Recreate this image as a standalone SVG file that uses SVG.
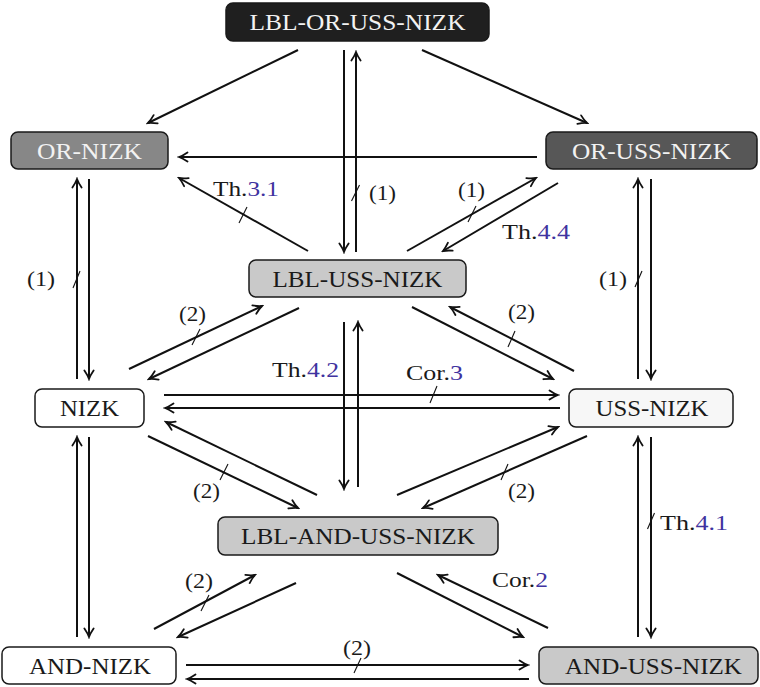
<svg xmlns="http://www.w3.org/2000/svg" width="760" height="687" viewBox="0 0 760 687">
<style>
.box{stroke:#1a1a1a;stroke-width:1.5}
.nt{font-family:"Liberation Serif","DejaVu Serif",serif;font-size:23px;text-anchor:middle;fill:#1a1a1a}
.wt{fill:#f2f2f2}
.lb{font-family:"Liberation Serif","DejaVu Serif",serif;font-size:22px;fill:#1a1a1a}
.ref{fill:#3f33a0}
.c line{stroke:#111;stroke-width:2;fill:none}
.c line.a{marker-end:url(#ah)}
.c line.s{stroke-width:1.1}
</style>
<defs>
<marker id="ah" viewBox="-10 -6 12 12" refX="0" refY="0" markerWidth="12" markerHeight="12" markerUnits="userSpaceOnUse" orient="auto">
<path d="M-8.5,-4.6 Q-3.5,-1.2 0,0 Q-3.5,1.2 -8.5,4.6" fill="none" stroke="#111" stroke-width="1.8" stroke-linecap="round"/>
</marker>
</defs>
<rect width="760" height="687" fill="#ffffff"/>

<g id="connectors" class="c">
<line class="a" x1="298" y1="50" x2="148" y2="123"/>
<line class="a" x1="422" y1="50" x2="587" y2="123"/>
<line class="a" x1="344" y1="50" x2="344" y2="252"/>
<line class="a" x1="356" y1="252" x2="356" y2="52"/>
<line class="s" x1="351.5" y1="201" x2="359.5" y2="185"/>
<line class="a" x1="537" y1="157" x2="179" y2="157"/>
<line class="a" x1="308" y1="251" x2="179" y2="178"/>
<line class="s" x1="239" y1="223" x2="247" y2="207"/>
<line class="a" x1="407" y1="251" x2="536" y2="178"/>
<line class="s" x1="468" y1="222" x2="476" y2="206"/>
<line class="a" x1="558" y1="183" x2="443" y2="251"/>
<line class="a" x1="77" y1="379" x2="77" y2="179"/>
<line class="s" x1="73" y1="288" x2="80" y2="271"/>
<line class="a" x1="89" y1="179" x2="89" y2="379"/>
<line class="a" x1="638" y1="379" x2="638" y2="179"/>
<line class="s" x1="635" y1="287" x2="642" y2="271"/>
<line class="a" x1="651" y1="179" x2="651" y2="379"/>
<line class="a" x1="129" y1="369" x2="262" y2="306"/>
<line class="s" x1="192" y1="345" x2="200" y2="329"/>
<line class="a" x1="299" y1="308" x2="149" y2="379"/>
<line class="a" x1="412" y1="307" x2="553" y2="379"/>
<line class="a" x1="574" y1="371" x2="450" y2="307"/>
<line class="s" x1="508" y1="347" x2="515" y2="331"/>
<line class="a" x1="344" y1="322" x2="344" y2="489"/>
<line class="a" x1="358" y1="487" x2="358" y2="322"/>
<line class="a" x1="164" y1="395" x2="558" y2="395"/>
<line class="s" x1="430" y1="403" x2="437" y2="386"/>
<line class="a" x1="560" y1="408" x2="165" y2="408"/>
<line class="a" x1="317" y1="495" x2="166" y2="422"/>
<line class="a" x1="148" y1="436" x2="298" y2="508"/>
<line class="s" x1="220" y1="480" x2="228" y2="464"/>
<line class="a" x1="397" y1="495" x2="558" y2="427"/>
<line class="a" x1="587" y1="436" x2="423" y2="508"/>
<line class="s" x1="501" y1="480" x2="508" y2="464"/>
<line class="a" x1="77" y1="637" x2="77" y2="437"/>
<line class="a" x1="89" y1="437" x2="89" y2="637"/>
<line class="a" x1="638" y1="637" x2="638" y2="437"/>
<line class="a" x1="651" y1="437" x2="651" y2="637"/>
<line class="s" x1="647.5" y1="529" x2="654.5" y2="513"/>
<line class="a" x1="154" y1="629" x2="255" y2="575"/>
<line class="s" x1="201" y1="611" x2="209" y2="595"/>
<line class="a" x1="296" y1="583" x2="178" y2="637"/>
<line class="a" x1="397" y1="573" x2="523" y2="637"/>
<line class="a" x1="548" y1="628" x2="438" y2="575"/>
<line class="a" x1="186" y1="665" x2="528" y2="665"/>
<line class="s" x1="354" y1="673" x2="361" y2="658"/>
<line class="a" x1="529" y1="679" x2="187" y2="679"/>
</g>

<g id="labels">
<text class="lb" x="213" y="196" textLength="66" lengthAdjust="spacingAndGlyphs">Th.<tspan class="ref">3.1</tspan></text>
<text class="lb" x="369" y="200" textLength="27" lengthAdjust="spacingAndGlyphs">(1)</text>
<text class="lb" x="458" y="197" textLength="27" lengthAdjust="spacingAndGlyphs">(1)</text>
<text class="lb" x="502" y="239" textLength="68" lengthAdjust="spacingAndGlyphs">Th.<tspan class="ref">4.4</tspan></text>
<text class="lb" x="27" y="286" textLength="28" lengthAdjust="spacingAndGlyphs">(1)</text>
<text class="lb" x="599" y="286" textLength="28" lengthAdjust="spacingAndGlyphs">(1)</text>
<text class="lb" x="179" y="321" textLength="27" lengthAdjust="spacingAndGlyphs">(2)</text>
<text class="lb" x="508" y="319" textLength="27" lengthAdjust="spacingAndGlyphs">(2)</text>
<text class="lb" x="272" y="377" textLength="67" lengthAdjust="spacingAndGlyphs">Th.<tspan class="ref">4.2</tspan></text>
<text class="lb" x="406" y="380" textLength="57" lengthAdjust="spacingAndGlyphs">Cor.<tspan class="ref">3</tspan></text>
<text class="lb" x="193" y="498" textLength="27" lengthAdjust="spacingAndGlyphs">(2)</text>
<text class="lb" x="508" y="498" textLength="27" lengthAdjust="spacingAndGlyphs">(2)</text>
<text class="lb" x="660" y="530" textLength="68" lengthAdjust="spacingAndGlyphs">Th.<tspan class="ref">4.1</tspan></text>
<text class="lb" x="185" y="588" textLength="28" lengthAdjust="spacingAndGlyphs">(2)</text>
<text class="lb" x="492" y="587" textLength="56" lengthAdjust="spacingAndGlyphs">Cor.<tspan class="ref">2</tspan></text>
<text class="lb" x="343" y="655" textLength="28" lengthAdjust="spacingAndGlyphs">(2)</text>
</g>

<g id="lbl-or-uss-nizk">
<rect class="box" x="226" y="3" width="263" height="38" rx="7" fill="#1f1f1f"/>
<text class="nt wt" x="357.5" y="30" textLength="216" lengthAdjust="spacingAndGlyphs">LBL-OR-USS-NIZK</text>
</g>
<g id="or-nizk">
<rect class="box" x="11" y="132" width="157" height="37" rx="7" fill="#878787"/>
<text class="nt wt" x="89.5" y="159" textLength="105" lengthAdjust="spacingAndGlyphs">OR-NIZK</text>
</g>
<g id="or-uss-nizk">
<rect class="box" x="546" y="132" width="211" height="37" rx="7" fill="#575757"/>
<text class="nt wt" x="651.5" y="159" textLength="159" lengthAdjust="spacingAndGlyphs">OR-USS-NIZK</text>
</g>
<g id="lbl-uss-nizk">
<rect class="box" x="249" y="260" width="217" height="37" rx="7" fill="#c9c9c9"/>
<text class="nt" x="357.5" y="287" textLength="170" lengthAdjust="spacingAndGlyphs">LBL-USS-NIZK</text>
</g>
<g id="nizk">
<rect class="box" x="35" y="389" width="109" height="38" rx="7" fill="#ffffff"/>
<text class="nt" x="89.5" y="416" textLength="59" lengthAdjust="spacingAndGlyphs">NIZK</text>
</g>
<g id="uss-nizk">
<rect class="box" x="569" y="389" width="164" height="38" rx="7" fill="#f7f7f7"/>
<text class="nt" x="652" y="416" textLength="113" lengthAdjust="spacingAndGlyphs">USS-NIZK</text>
</g>
<g id="lbl-and-uss-nizk">
<rect class="box" x="218" y="517" width="280" height="38" rx="7" fill="#c9c9c9"/>
<text class="nt" x="358" y="544" textLength="234" lengthAdjust="spacingAndGlyphs">LBL-AND-USS-NIZK</text>
</g>
<g id="and-nizk">
<rect class="box" x="2" y="647" width="174" height="37" rx="7" fill="#ffffff"/>
<text class="nt" x="90" y="674" textLength="122" lengthAdjust="spacingAndGlyphs">AND-NIZK</text>
</g>
<g id="and-uss-nizk">
<rect class="box" x="539" y="647" width="219" height="37" rx="7" fill="#c9c9c9"/>
<text class="nt" x="653.5" y="674" textLength="177" lengthAdjust="spacingAndGlyphs">AND-USS-NIZK</text>
</g>
</svg>
